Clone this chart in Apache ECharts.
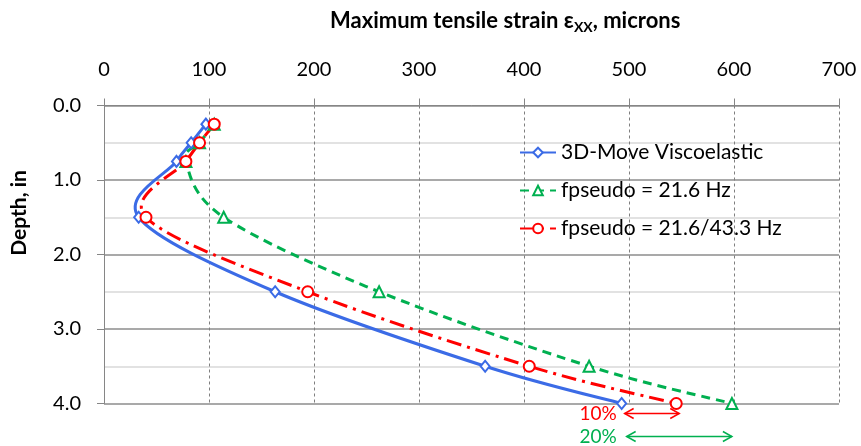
<!DOCTYPE html>
<html><head><meta charset="utf-8">
<script src="https://cdn.jsdelivr.net/npm/echarts@6/dist/echarts.min.js"></script>
<style>html,body{margin:0;padding:0;background:#fff}#c{width:861px;height:446px}</style>
</head><body><div id="c"></div>
<script>
// ---- data ----
const depths = [0.25, 0.5, 0.75, 1.5, 2.5, 3.5, 4.0];
const viscoelastic = [97, 83, 69, 33, 163, 363, 493];
const fp216 = [105, 91, 78, 114, 262, 462, 598];
const fp216433 = [105, 91, 78, 40, 194, 405, 545];
const seriesNames = ['3D-Move Viscoelastic', 'fpseudo = 21.6 Hz', 'fpseudo = 21.6/43.3 Hz'];
const diffLabels = ['10%', '20%'];
const xRange = [0, 700, 100];
const yRange = [0, 4, 1];

const FONT = 'Lato';
const BLUE = '#3b6be6', GREEN = '#00b050', RED = '#ff0000';
const DASH_G = [9, 6], DASH_R = [15, 6, 3, 6];
const LW = 3;
const pairs = arr => arr.map((v, i) => [v, depths[i]]);

// Excel-style smoothed curve drawn through the axis scales (api.coord)
function curveSeries(arr, color, dash, z) {
  return {
    type: 'custom', silent: true, z: z, clip: false,
    data: pairs(arr),
    encode: { x: 0, y: 1 },
    renderItem: (params, api) => {
      if (params.dataIndex !== 0) return null;
      const pts = arr.map((v, i) => api.coord([v, depths[i]]));
      const n = pts.length;
      let d = 'M' + pts[0][0] + ',' + pts[0][1];
      for (let i = 0; i < n - 1; i++) {
        const p0 = pts[Math.max(i - 1, 0)], p1 = pts[i], p2 = pts[i + 1], p3 = pts[Math.min(i + 2, n - 1)];
        const c1 = [p1[0] + (p2[0] - p0[0]) / 6, p1[1] + (p2[1] - p0[1]) / 6];
        const c2 = [p2[0] - (p3[0] - p1[0]) / 6, p2[1] - (p3[1] - p1[1]) / 6];
        d += ' C' + c1[0] + ',' + c1[1] + ' ' + c2[0] + ',' + c2[1] + ' ' + p2[0] + ',' + p2[1];
      }
      return { type: 'path', shape: { pathData: d }, style: { stroke: color, lineWidth: LW, lineDash: dash, fill: null } };
    }
  };
}
function markerSeries(name, arr, color, symbol, size, dash, z) {
  return {
    name: name, type: 'line', data: pairs(arr), symbol: symbol, symbolSize: size, z: z,
    lineStyle: { color: color, width: LW, type: dash, opacity: 0 },
    itemStyle: { color: color, borderWidth: 1 }
  };
}

const chart = echarts.init(document.getElementById('c'), null, { renderer: 'canvas' });
chart.setOption({
  animation: false,
  backgroundColor: '#fff',
  title: {
    text: 'Maximum tensile strain ε{sub|XX}, microns',
    left: 325, top: 3,
    textStyle: {
      fontFamily: FONT, fontSize: 22, fontWeight: 'bold', color: '#000',
      rich: { sub: { fontFamily: FONT, fontSize: 14, fontWeight: 'bold', color: '#000', padding: [12, 0, 0, 0] } }
    }
  },
  grid: { left: 104, right: 22, top: 105.5, bottom: 42.5, containLabel: false },
  legend: {
    orient: 'vertical', left: 514, top: 137,
    itemWidth: 36, itemHeight: 12, itemGap: 17,
    data: seriesNames,
    lineStyle: { opacity: 1 },
    textStyle: { fontFamily: FONT, fontSize: 21, color: '#000' }
  },
  xAxis: {
    type: 'value', position: 'top', min: xRange[0], max: xRange[1], interval: xRange[2],
    axisLine: { show: true, lineStyle: { color: '#868686', width: 1 } },
    axisTick: { show: true, length: 7, lineStyle: { color: '#868686' } },
    axisLabel: { fontFamily: FONT, fontSize: 20, color: '#000', margin: 26 },
    splitLine: { show: true, lineStyle: { type: [3, 3], color: '#7f7f7f', width: 1 } }
  },
  yAxis: {
    type: 'value', inverse: true, min: yRange[0], max: yRange[1], interval: yRange[2],
    axisLine: { show: true, lineStyle: { color: '#868686', width: 1 } },
    axisTick: { show: true, length: 7, lineStyle: { color: '#868686' } },
    axisLabel: { fontFamily: FONT, fontSize: 20, color: '#000', margin: 23, formatter: v => v.toFixed(1) },
    splitLine: { show: true, lineStyle: { color: '#8c8c8c', width: 1.5 } },
    minorTick: { show: false, splitNumber: 2 },
    minorSplitLine: { show: true, lineStyle: { color: '#d9d9d9', width: 1.5 } }
  },
  series: [
    curveSeries(viscoelastic, BLUE, null, 2),
    curveSeries(fp216, GREEN, DASH_G, 3),
    curveSeries(fp216433, RED, DASH_R, 4),
    markerSeries(seriesNames[0], viscoelastic, BLUE, 'emptyDiamond', [9, 11], 'solid', 5),
    markerSeries(seriesNames[1], fp216, GREEN, 'emptyTriangle', 11, DASH_G, 6),
    markerSeries(seriesNames[2], fp216433, RED, 'emptyCircle', 11, DASH_R, 7)
  ]
});

// ---- annotations: y-axis name and difference arrows ----
const last = depths.length - 1;
const p = (x, y) => chart.convertToPixel({ gridIndex: 0 }, [x, y]);
const baseY = p(0, depths[last])[1];
function arrow(x1, x2, y, color) {
  const h = 9, w = 5;
  return [
    { type: 'line', shape: { x1, y1: y, x2, y2: y }, style: { stroke: color, lineWidth: 1.5 } },
    { type: 'polyline', shape: { points: [[x1 + h, y - w], [x1, y], [x1 + h, y + w]] }, style: { stroke: color, lineWidth: 1.5, fill: null } },
    { type: 'polyline', shape: { points: [[x2 - h, y - w], [x2, y], [x2 - h, y + w]] }, style: { stroke: color, lineWidth: 1.5, fill: null } }
  ];
}
const bx = p(viscoelastic[last], 0)[0];
const rx = p(fp216433[last], 0)[0];
const gx = p(fp216[last], 0)[0];
const y1 = baseY + 10, y2 = baseY + 33;
const g = [];
g.push(...arrow(bx + 3, rx + 3, y1, RED));
g.push(...arrow(bx + 5, gx, y2, GREEN));
g.push({ type: 'text', x: bx - 5, y: y1, style: { text: diffLabels[0], fill: RED, font: '19px ' + FONT, textAlign: 'right', textVerticalAlign: 'middle' } });
g.push({ type: 'text', x: bx - 5, y: y2, style: { text: diffLabels[1], fill: GREEN, font: '19px ' + FONT, textAlign: 'right', textVerticalAlign: 'middle' } });
g.push({ type: 'text', x: 19, y: 213, rotation: Math.PI / 2, style: { text: 'Depth, in', fill: '#000', font: 'bold 21px ' + FONT, textAlign: 'center', textVerticalAlign: 'middle' } });
chart.setOption({ graphic: g });
</script>
</body></html>
